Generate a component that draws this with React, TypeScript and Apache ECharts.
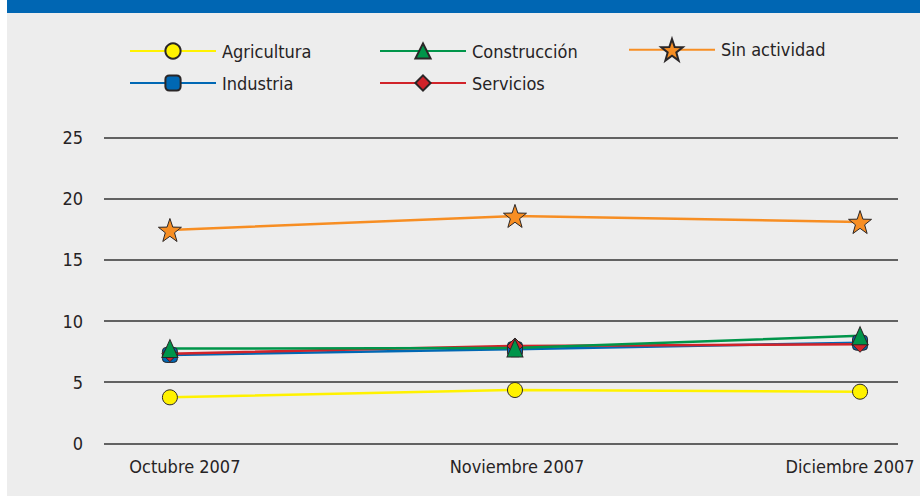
import React, { useEffect, useRef } from "react";
import * as echarts from "echarts";

const categories = ["Octubre 2007", "Noviembre 2007", "Diciembre 2007"];
const agricultura = [3.76, 4.36, 4.22];
const industria = [7.23, 7.7, 8.23];
const servicios = [7.33, 7.96, 8.1];
const construccion = [7.75, 7.8, 8.8];
const sinActividad = [17.45, 18.6, 18.1];
const yTicks = [0, 5, 10, 15, 20, 25];

const FONT = "'DejaVu Sans Condensed', 'Liberation Sans', sans-serif";
const FS = 18;
const TEXT = "#262324";
const BORDER = "#2a2627";
const STAR =
  "path://M50 0 L61.76 33.82 L97.55 34.55 L69.02 56.18 L79.39 90.45 L50 70 L20.61 90.45 L30.98 56.18 L2.45 34.55 L38.24 33.82 Z";

const toPoints = (vals: number[]) => vals.map((v, i) => [i, v]);

export default function App() {
  const ref = useRef<HTMLDivElement>(null);
  useEffect(() => {
    if (!ref.current) return;
    const chart = echarts.init(ref.current, undefined, { renderer: "svg" });

    const mk = (name: string, vals: number[], color: string, symbol: string, size: any) => ({
      name,
      type: "line",
      data: toPoints(vals),
      symbol,
      symbolSize: size,
      showSymbol: true,
      lineStyle: { color, width: 2.5 },
      itemStyle: { color, borderColor: BORDER, borderWidth: 1 },
      emphasis: { disabled: true },
      z: 3,
    });

    const legendAt = (name: string, left: number, top: number, h = 19) => ({
      data: [name],
      left,
      top,
      orient: "horizontal",
      itemWidth: 86,
      itemHeight: h,
      selectedMode: false,
      textStyle: { fontFamily: FONT, fontSize: FS, color: TEXT, padding: [0, 0, 0, 1] },
    });

    chart.setOption({
      animation: false,
      backgroundColor: "transparent",
      graphic: [
        { type: "rect", shape: { x: 7, y: 0, width: 913, height: 496 }, style: { fill: "#ededed" }, z: -10 },
        { type: "rect", shape: { x: 7, y: 0, width: 913, height: 13 }, style: { fill: "#0066b3" }, z: -9 },
      ],
      legend: [
        legendAt("Agricultura", 124, 37),
        legendAt("Construcción", 374, 37),
        legendAt("Sin actividad", 623, 33, 27),
        legendAt("Industria", 124, 69),
        legendAt("Servicios", 374, 69),
      ],
      grid: { left: 104, right: 22, top: 137.7, bottom: 52.7, outerBoundsMode: "none", containLabel: false },
      xAxis: {
        type: "value",
        min: -0.191,
        max: 2.11,
        splitLine: { show: false },
        axisTick: { show: false },
        axisLine: { show: false },
        axisLabel: {
          customValues: [0, 1, 2],
          margin: 14,
          fontFamily: FONT,
          fontSize: FS,
          color: TEXT,
          hideOverlap: false,
          formatter: (v: number) => {
            const i = Math.round(v);
            const key = i === 0 ? "l" : i === 2 ? "r" : "m";
            return "{" + key + "|" + categories[i] + "}";
          },
          rich: {
            l: { fontFamily: FONT, fontSize: FS, color: TEXT, padding: [0, 0, 0, 30] },
            m: { fontFamily: FONT, fontSize: FS, color: TEXT, padding: [0, 0, 0, 4] },
            r: { fontFamily: FONT, fontSize: FS, color: TEXT, padding: [0, 20, 0, 0] },
          },
        },
      },
      yAxis: {
        type: "value",
        min: yTicks[0],
        max: yTicks[yTicks.length - 1],
        interval: 5,
        axisLine: { show: false },
        axisTick: { show: false },
        splitLine: { show: true, lineStyle: { color: "#333333", width: 1.5 } },
        axisLabel: { margin: 21, fontFamily: FONT, fontSize: FS, color: TEXT },
      },
      series: [
        mk("Agricultura", agricultura, "#fff200", "circle", 15),
        mk("Industria", industria, "#0068b4", "roundRect", 15),
        mk("Servicios", servicios, "#d1232a", "diamond", 16),
        mk("Construcción", construccion, "#00954a", "triangle", [16, 18]),
        mk("Sin actividad", sinActividad, "#f78e23", STAR, 23),
      ],
    });
    return () => chart.dispose();
  }, []);

  return (
    <div
      ref={ref}
      style={{ position: "fixed", left: 0, top: 0, width: 920, height: 496, background: "#ffffff" }}
    />
  );
}
